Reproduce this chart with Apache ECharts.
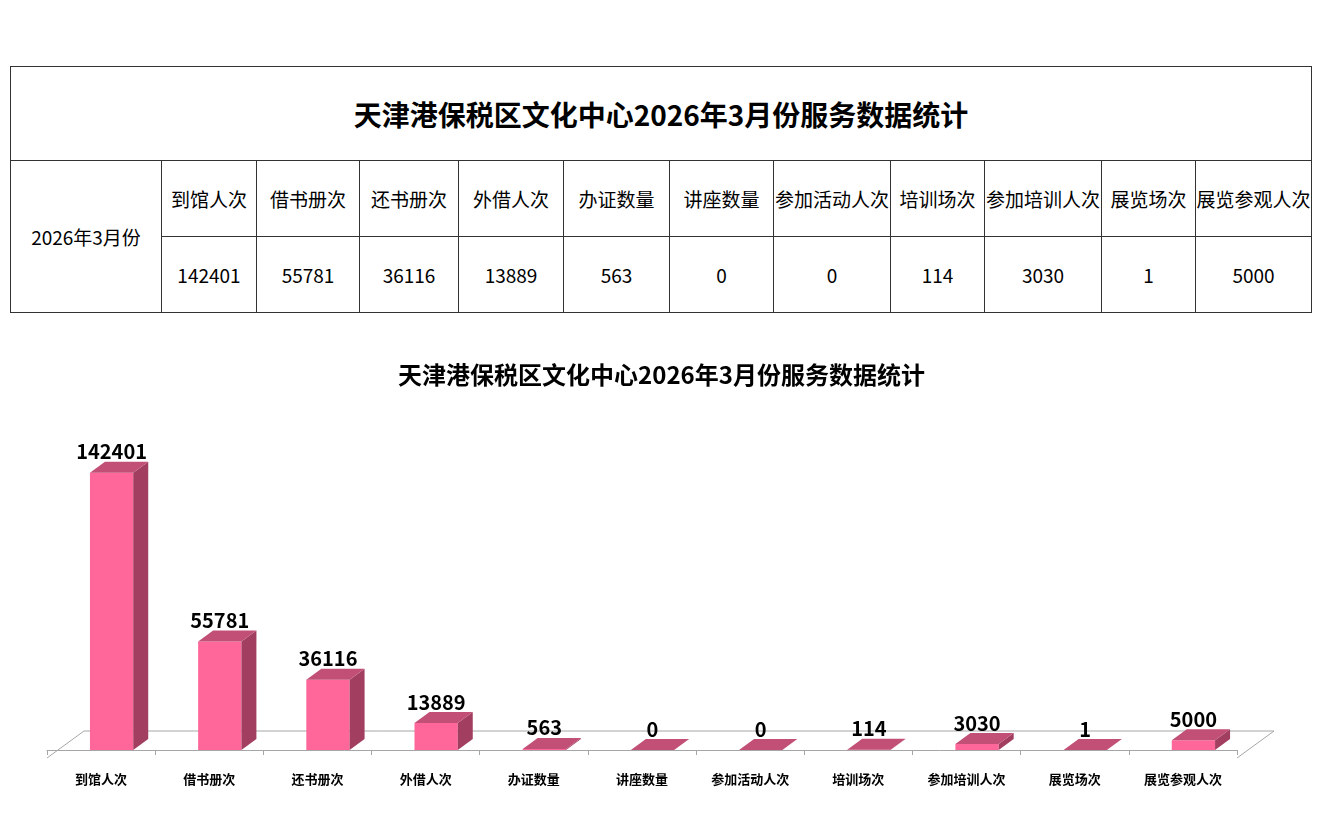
<!DOCTYPE html>
<html>
<head>
<meta charset="utf-8">
<script src="https://cdn.jsdelivr.net/npm/echarts@6/dist/echarts.min.js"></script>
<style>
body { margin: 0; background: #fff; font-family: "Noto Sans CJK SC", sans-serif; }
#chart { position: absolute; left: 0; top: 0; width: 1323px; height: 832px; }
#tbl { position: absolute; left: 10px; top: 66px; width: 1302px; border-collapse: collapse; table-layout: fixed; background: #fff; }
#tbl td { border: 1px solid #333; text-align: center; padding: 0; white-space: nowrap; font-size: 19px; color: #000; }
#tbl .head { font-size: 28px; font-weight: bold; height: 93px; }
#tbl .row { height: 76px; }
</style>
</head>
<body>
<div id="chart"></div>
<table id="tbl"></table>
<script>
// 数据
var titleText = '天津港保税区文化中心2026年3月份服务数据统计';
var periodLabel = '2026年3月份';
var categories = ['到馆人次', '借书册次', '还书册次', '外借人次', '办证数量', '讲座数量', '参加活动人次', '培训场次', '参加培训人次', '展览场次', '展览参观人次'];
var values = [142401, 55781, 36116, 13889, 563, 0, 0, 114, 3030, 1, 5000];

// 表格
var colWidths = [151, 95, 103, 99, 105, 106, 104, 117, 94, 117, 94, 116];
var tbl = document.getElementById('tbl');
var html = '<colgroup>' + colWidths.map(w => '<col style="width:' + w + 'px">').join('') + '</colgroup>';
html += '<tr><td class="head" colspan="' + (categories.length + 1) + '">' + titleText + '</td></tr>';
html += '<tr class="row"><td rowspan="2">' + periodLabel + '</td>' + categories.map(c => '<td>' + c + '</td>').join('') + '</tr>';
html += '<tr class="row">' + values.map(v => '<td>' + v + '</td>').join('') + '</tr>';
tbl.innerHTML = html;

// 图表
var chart = echarts.init(document.getElementById('chart'));

var depthX = 15, depthY = -11;   // 柱子厚度
var floorX = 37, floorY = -27;   // 底面深度

function renderBar(params, api) {
    var idx = api.value(0), v = api.value(1);
    var top = api.coord([idx, v]);
    var base = api.coord([idx, 0]);
    var bw = api.size([1, 0])[0];
    var w = bw * 0.4;
    var x0 = base[0] - w / 2 + 10.5;
    var x1 = x0 + w;
    var yt = top[1], yb = base[1];
    return {
        type: 'group',
        children: [
            { type: 'rect', shape: { x: x0, y: yt, width: w, height: yb - yt }, style: { fill: '#FF6699' } },
            { type: 'polygon', shape: { points: [[x1, yt], [x1 + depthX, yt + depthY], [x1 + depthX, yb + depthY], [x1, yb]] }, style: { fill: '#A23F60' } },
            { type: 'polygon', shape: { points: [[x0, yt], [x0 + depthX, yt + depthY], [x1 + depthX, yt + depthY], [x1, yt]] }, style: { fill: '#C24F75' } },
            { type: 'text', style: { x: x0 + w / 2, y: yt + depthY, text: String(v), align: 'center', verticalAlign: 'bottom', fontSize: 20, fontWeight: 'bold', fill: '#000', fontFamily: 'Noto Sans CJK SC' } }
        ]
    };
}

function renderFloor(params, api) {
    var bw = api.size([1, 0])[0];
    var left = api.coord([0, 0])[0] - bw / 2;
    var right = api.coord([categories.length - 1, 0])[0] + bw / 2;
    var yf = api.coord([0, 0])[1] + 8;
    return {
        type: 'polyline',
        shape: { points: [[left, yf], [left + floorX, yf + floorY], [right + floorX, yf + floorY], [right, yf]] },
        style: { stroke: '#A6A6A6', lineWidth: 1, fill: null }
    };
}

var option = {
    animation: false,
    title: {
        text: titleText,
        left: 'center',
        top: 358,
        textStyle: { fontSize: 24, fontWeight: 'bold', color: '#000', fontFamily: 'Noto Sans CJK SC' }
    },
    grid: { left: 47, right: 86, top: 458, bottom: 82 },
    xAxis: {
        type: 'category',
        data: categories,
        offset: 8,
        axisLine: { lineStyle: { color: '#A6A6A6' } },
        axisTick: { show: true, length: 5, lineStyle: { color: '#A6A6A6' } },
        axisLabel: { interval: 0, margin: 15, fontSize: 13, fontWeight: 'bold', color: '#000', fontFamily: 'Noto Sans CJK SC' }
    },
    yAxis: { type: 'value', min: 0, max: 150000, show: false },
    series: [
        { type: 'custom', renderItem: renderFloor, data: [[0, 0]], clip: false, z: 1, silent: true },
        { type: 'custom', renderItem: renderBar, data: values.map((v, i) => [i, v]), clip: false, z: 2 }
    ]
};
chart.setOption(option);
</script>
</body>
</html>
